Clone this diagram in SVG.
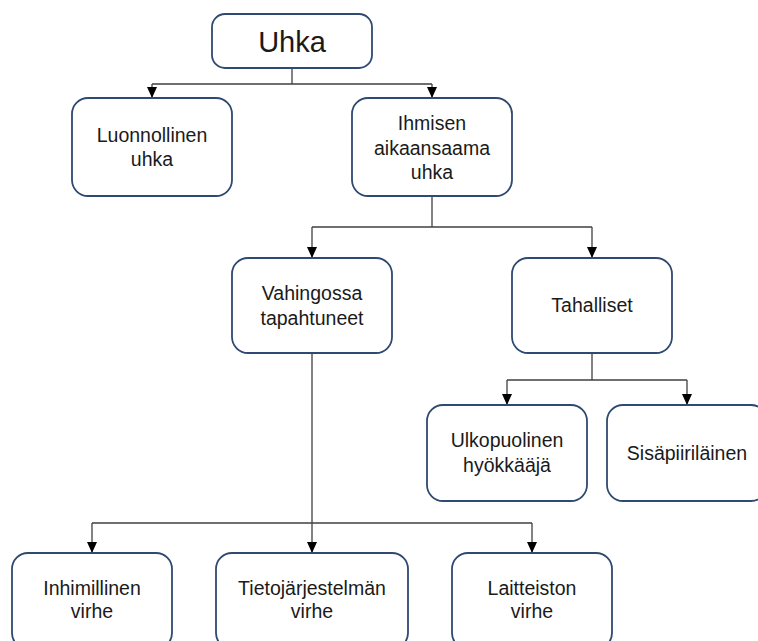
<svg xmlns="http://www.w3.org/2000/svg" width="758" height="641" viewBox="0 0 758 641">
<style>
.box{fill:#fff;stroke:#2f4a70;stroke-width:1.8}
.t{font-family:"Liberation Sans",Arial,sans-serif;font-size:19.5px;fill:#1a1a1a;text-anchor:middle}
.big{font-size:29px}
.c{fill:none;stroke:#404040;stroke-width:1.3}
</style>
<defs>
<marker id="ah" markerUnits="userSpaceOnUse" markerWidth="11" markerHeight="10" refX="11" refY="5" orient="auto" viewBox="0 0 11 10">
<path d="M0,0 L11,5 L0,10 Z" fill="#000"/>
</marker>
</defs>
<g id="connectors">
<path class="c" d="M292,68 V84 M152,84 H432"/>
<path class="c" d="M152,84 V98" marker-end="url(#ah)"/>
<path class="c" d="M432,84 V98" marker-end="url(#ah)"/>
<path class="c" d="M432,196 V227 M312,227 H592"/>
<path class="c" d="M312,227 V258" marker-end="url(#ah)"/>
<path class="c" d="M592,227 V258" marker-end="url(#ah)"/>
<path class="c" d="M592,353 V380 M507,380 H687"/>
<path class="c" d="M507,380 V405" marker-end="url(#ah)"/>
<path class="c" d="M687,380 V405" marker-end="url(#ah)"/>
<path class="c" d="M312,353 V523 M92,523 H532"/>
<path class="c" d="M92,523 V553" marker-end="url(#ah)"/>
<path class="c" d="M312,523 V553" marker-end="url(#ah)"/>
<path class="c" d="M532,523 V553" marker-end="url(#ah)"/>
</g>
<g id="uhka">
<rect class="box" x="212" y="14" width="160" height="54" rx="13"/>
<text class="t big" x="292" y="52">Uhka</text>
</g>
<g id="luonnollinen">
<rect class="box" x="72" y="98" width="160" height="98" rx="16"/>
<text class="t" x="152" y="142">Luonnollinen</text>
<text class="t" x="152" y="166">uhka</text>
</g>
<g id="ihmisen">
<rect class="box" x="352" y="98" width="160" height="98" rx="16"/>
<text class="t" x="432" y="130">Ihmisen</text>
<text class="t" x="432" y="155">aikaansaama</text>
<text class="t" x="432" y="179">uhka</text>
</g>
<g id="vahingossa">
<rect class="box" x="232" y="258" width="160" height="95" rx="16"/>
<text class="t" x="312" y="300">Vahingossa</text>
<text class="t" x="312" y="325">tapahtuneet</text>
</g>
<g id="tahalliset">
<rect class="box" x="512" y="258" width="160" height="95" rx="16"/>
<text class="t" x="592" y="312">Tahalliset</text>
</g>
<g id="ulkopuolinen">
<rect class="box" x="427" y="405" width="160" height="96" rx="16"/>
<text class="t" x="507" y="447">Ulkopuolinen</text>
<text class="t" x="507" y="472">hyökkääjä</text>
</g>
<g id="sisapiirilainen">
<rect class="box" x="607" y="405" width="160" height="96" rx="16"/>
<text class="t" x="687" y="460">Sisäpiiriläinen</text>
</g>
<g id="inhimillinen">
<rect class="box" x="12" y="553" width="160" height="96" rx="16"/>
<text class="t" x="92" y="595">Inhimillinen</text>
<text class="t" x="92" y="618">virhe</text>
</g>
<g id="tietojarjestelman">
<rect class="box" x="216" y="553" width="192" height="96" rx="16"/>
<text class="t" x="312" y="595">Tietojärjestelmän</text>
<text class="t" x="312" y="618">virhe</text>
</g>
<g id="laitteiston">
<rect class="box" x="452" y="553" width="160" height="96" rx="16"/>
<text class="t" x="532" y="595">Laitteiston</text>
<text class="t" x="532" y="618">virhe</text>
</g>
</svg>
